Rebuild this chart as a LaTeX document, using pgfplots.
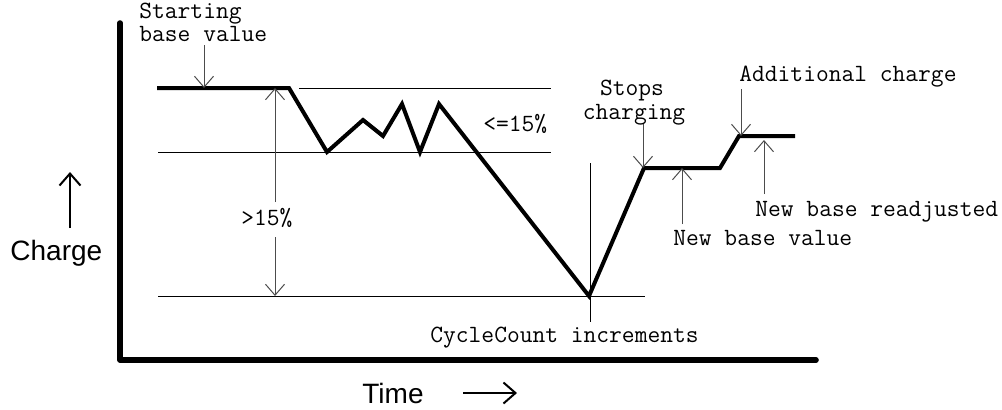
\documentclass[border=0pt]{standalone}
\usepackage{fontspec}
\setmainfont{Liberation Sans}
\usepackage{pgfplots}
\pgfplotsset{compat=1.18}
\usetikzlibrary{arrows.meta}
\tikzset{
  ann/.style={black!70, line width=0.5pt, -{Straight Barb[length=5.5pt,width=9.5pt]}},
  mtxt/.style={anchor=base west, inner sep=0pt, font=\ttfamily\fontsize{12.4}{14}\selectfont},
  stxt/.style={anchor=base west, inner sep=0pt, font=\fontsize{14}{16}\selectfont},
}
\begin{document}
\begin{tikzpicture}
\begin{axis}[
  width=501pt, height=204.5pt, scale only axis,
  xmin=0, xmax=1002, ymin=0, ymax=409, y dir=reverse,
  hide axis, clip=false,
]
\path (rel axis cs:0,0) rectangle (rel axis cs:1,1);
% frame (L-shaped axis)
\addplot[black, line width=2.8pt, line join=round, line cap=round] coordinates {(120,23) (120,360) (816,360)};
% reference lines
\addplot[black, line width=0.5pt] coordinates {(299,88) (551,88)};
\addplot[black, line width=0.5pt] coordinates {(158,152) (551,152)};
\addplot[black, line width=0.5pt] coordinates {(158,296) (645,296)};
\addplot[black, line width=0.5pt] coordinates {(590,163) (590,322)};
% charge curve
\addplot[black, line width=2pt, line join=miter] coordinates {
 (157,88) (289,88) (327,152) (363,120) (383,136) (402,104) (420,152) (439,104)
 (589,296) (644,168) (720,168) (739,136) (795,136)};
% annotation arrows
\addplot[ann] coordinates {(204,45) (204,88)};
\addplot[ann] coordinates {(275,202) (275,88)};
\addplot[ann] coordinates {(275,237) (275,296)};
\addplot[ann] coordinates {(643,123) (643,168)};
\addplot[ann] coordinates {(682,224) (682,168)};
\addplot[ann] coordinates {(741,89) (741,136)};
\addplot[ann] coordinates {(764,194) (764,140)};
% axis-name arrows
\addplot[black, line width=1pt, -{Straight Barb[length=6pt,width=10.5pt]}] coordinates {(70,228) (70,172)};
\addplot[black, line width=1pt, -{Straight Barb[length=6pt,width=10.5pt]}] coordinates {(463,393) (517,393)};
% texts
\node[mtxt] at (axis cs:139,18) {Starting};
\node[mtxt] at (axis cs:139,41.5) {base value};
\node[mtxt] at (axis cs:241,225) {>15\%};
\node[mtxt] at (axis cs:483,131) {<=15\%};
\node[mtxt, anchor=base] at (axis cs:632,95) {Stops};
\node[mtxt, anchor=base] at (axis cs:634,119) {charging};
\node[mtxt] at (axis cs:739,81) {Additional charge};
\node[mtxt] at (axis cs:755,216) {New base readjusted};
\node[mtxt] at (axis cs:673,245) {New base value};
\node[mtxt] at (axis cs:430,342) {CycleCount increments};
\node[stxt] at (axis cs:10,260) {Charge};
\node[stxt] at (axis cs:362,403) {Time};
\end{axis}
\end{tikzpicture}
\end{document}
